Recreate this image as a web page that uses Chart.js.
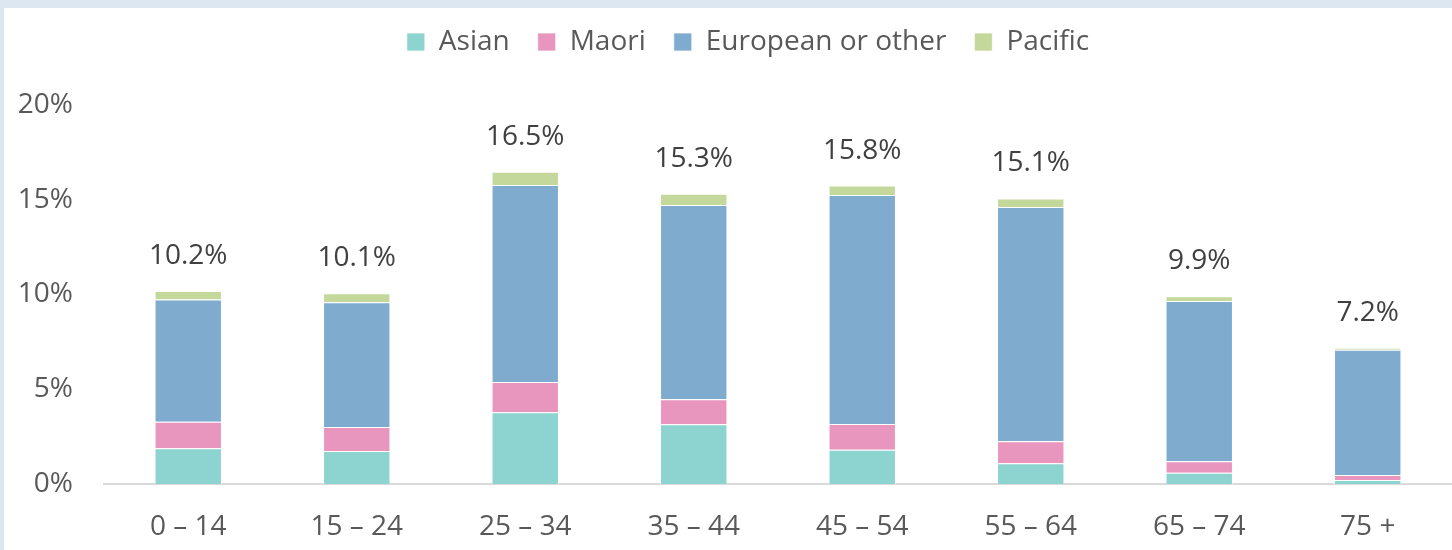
<!DOCTYPE html>
<html>
<head>
<meta charset="utf-8">
<script src="https://cdn.jsdelivr.net/npm/chart.js@4"></script>
<style>
  html, body { margin: 0; padding: 0; background: #dde7f2; overflow: hidden; }
  #panel { position: absolute; left: 4px; top: 8px; width: 1448px; height: 542px; background: #fff; }
  #wrap { position: absolute; left: 4px; top: -2px; width: 1448px; height: 552px; }
</style>
</head>
<body>
<div id="panel"></div>
<div id="wrap"><canvas id="ageChart" width="1448" height="552"></canvas></div>
<script>
// --- chart data ---
const ageGroups = ['0 – 14', '15 – 24', '25 – 34', '35 – 44', '45 – 54', '55 – 64', '65 – 74', '75 +'];
const asian = [1.88, 1.74, 3.78, 3.15, 1.81, 1.09, 0.60, 0.21];
const maori = [1.41, 1.27, 1.60, 1.32, 1.36, 1.16, 0.60, 0.26];
const european = [6.44, 6.58, 10.40, 10.25, 12.08, 12.37, 8.46, 6.62];
const pacific = [0.45, 0.47, 0.70, 0.60, 0.50, 0.45, 0.25, 0.10];
const totalLabels = ['10.2%', '10.1%', '16.5%', '15.3%', '15.8%', '15.1%', '9.9%', '7.2%'];
const yTicks = [0, 5, 10, 15, 20];

const FONT = "'Open Sans', sans-serif";

// writes the total above each stack
const totalsPlugin = {
    id: 'totals',
    afterDatasetsDraw(chart) {
        const ctx = chart.ctx;
        const y = chart.scales.y;
        const x = chart.scales.x;
        ctx.save();
        ctx.font = '28px ' + FONT;
        ctx.fillStyle = '#404040';
        ctx.textAlign = 'center';
        ctx.textBaseline = 'middle';
        ageGroups.forEach((g, i) => {
            const sum = asian[i] + maori[i] + european[i] + pacific[i];
            ctx.fillText(totalLabels[i], x.getPixelForValue(i), y.getPixelForValue(sum) - 35);
        });
        ctx.restore();
    }
};

// make room between legend and plot, nudge legend to the right
const legendSpace = {
    id: 'legendSpace',
    beforeInit(chart) {
        const fit = chart.legend.fit;
        chart.legend.fit = function () {
            fit.bind(chart.legend)();
            this.height = 105;
        };
    },
    afterLayout(chart) {
        chart.legend.left += 40;
    }
};

const barStyle = { borderColor: 'rgba(255,255,255,0.7)', borderWidth: 1, barPercentage: 0.4, categoryPercentage: 1 };

new Chart(document.getElementById('ageChart').getContext('2d'), {
    type: 'bar',
    data: {
        labels: ageGroups,
        datasets: [
            { label: 'Asian', data: asian, backgroundColor: '#8dd3cf', ...barStyle },
            { label: 'Maori', data: maori, backgroundColor: '#e896be', ...barStyle },
            { label: 'European or other', data: european, backgroundColor: '#7facce', ...barStyle },
            { label: 'Pacific', data: pacific, backgroundColor: '#c5d89c', ...barStyle }
        ]
    },
    options: {
        responsive: false,
        animation: false,
        layout: { padding: { top: 2, left: 0, right: 0, bottom: 0 } },
        plugins: {
            legend: {
                position: 'top',
                labels: {
                    color: '#595959',
                    font: { family: FONT, size: 28 },
                    boxWidth: 18,
                    boxHeight: 18,
                    padding: 28
                }
            },
            tooltip: { enabled: false }
        },
        scales: {
            x: {
                stacked: true,
                afterFit(scale) { scale.height = 66; },
                grid: { display: false, drawTicks: false },
                border: { color: '#d9d9d9', width: 2 },
                ticks: { color: '#595959', font: { family: FONT, size: 28 }, padding: 26 }
            },
            y: {
                stacked: true,
                min: 0,
                max: 20,
                afterFit(scale) { scale.width = 100; },
                afterBuildTicks(scale) { scale.ticks = yTicks.map(v => ({ value: v })); },
                grid: { display: false, drawTicks: false },
                border: { display: false },
                ticks: {
                    color: '#595959',
                    font: { family: FONT, size: 28 },
                    padding: 31,
                    callback: v => v + '%'
                }
            }
        }
    },
    plugins: [totalsPlugin, legendSpace]
});
</script>
</body>
</html>
